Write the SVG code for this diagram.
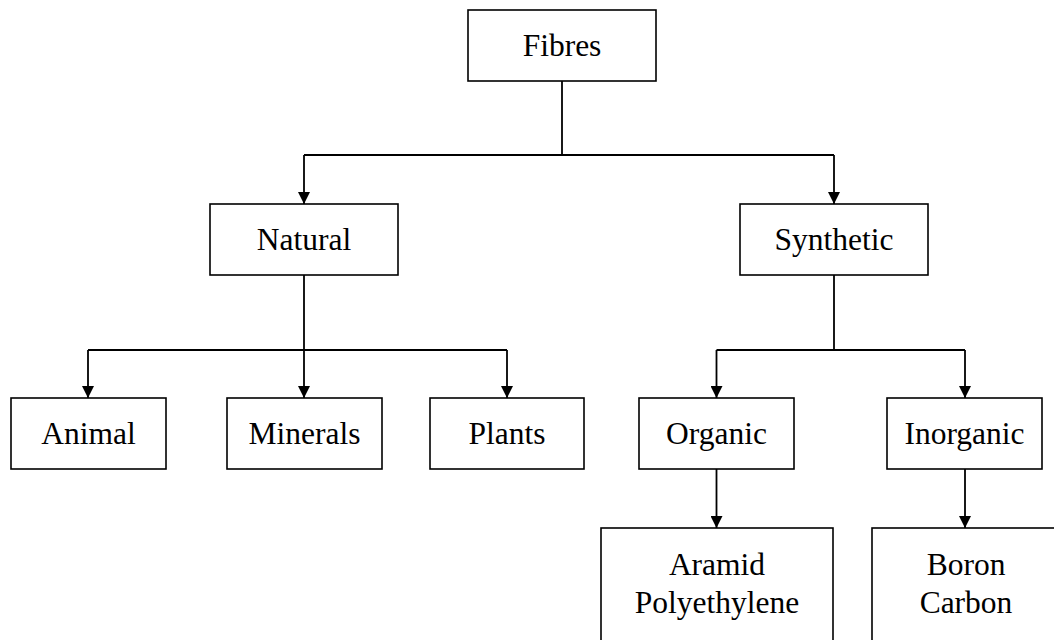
<svg xmlns="http://www.w3.org/2000/svg" width="1054" height="640" viewBox="0 0 1054 640">
<style>
.box{fill:#fff;stroke:#000;stroke-width:1.6}
.lbl{font-size:31.5px;fill:#000;text-anchor:middle}
.ln{fill:none;stroke:#000;stroke-width:1.8}
</style>
<defs>
<marker id="ah" markerWidth="12" markerHeight="12" refX="12" refY="6" orient="auto" markerUnits="userSpaceOnUse">
<path d="M0,0 L12,6 L0,12 Z" fill="#000"/>
</marker>
</defs>
<rect width="1054" height="640" fill="#fff"/>
<g id="connectors">
<path class="ln" d="M562,81 V155"/>
<path class="ln" d="M304,155 H834"/>
<path class="ln" d="M304,155 V204" marker-end="url(#ah)"/>
<path class="ln" d="M834,155 V204" marker-end="url(#ah)"/>
<path class="ln" d="M304,275 V398" marker-end="url(#ah)"/>
<path class="ln" d="M88,350 H507"/>
<path class="ln" d="M88,350 V398" marker-end="url(#ah)"/>
<path class="ln" d="M507,350 V398" marker-end="url(#ah)"/>
<path class="ln" d="M834,275 V350"/>
<path class="ln" d="M716.5,350 H965"/>
<path class="ln" d="M716.5,350 V398" marker-end="url(#ah)"/>
<path class="ln" d="M965,350 V398" marker-end="url(#ah)"/>
<path class="ln" d="M716.5,469 V528" marker-end="url(#ah)"/>
<path class="ln" d="M965,469 V528" marker-end="url(#ah)"/>
</g>
<g font-family="Liberation Serif, Tinos, Times New Roman, Times, serif">
<g id="fibres"><rect class="box" x="468" y="10" width="188" height="71"/><text class="lbl" x="562" y="56">Fibres</text></g>
<g id="natural"><rect class="box" x="210" y="204" width="188" height="71"/><text class="lbl" x="304" y="250">Natural</text></g>
<g id="synthetic"><rect class="box" x="740" y="204" width="188" height="71"/><text class="lbl" x="834" y="250">Synthetic</text></g>
<g id="animal"><rect class="box" x="11" y="398" width="155" height="71"/><text class="lbl" x="88.5" y="444">Animal</text></g>
<g id="minerals"><rect class="box" x="227" y="398" width="155" height="71"/><text class="lbl" x="304.5" y="444">Minerals</text></g>
<g id="plants"><rect class="box" x="430" y="398" width="154" height="71"/><text class="lbl" x="507" y="444">Plants</text></g>
<g id="organic"><rect class="box" x="639" y="398" width="155" height="71"/><text class="lbl" x="716.5" y="444">Organic</text></g>
<g id="inorganic"><rect class="box" x="887" y="398" width="155" height="71"/><text class="lbl" x="964.5" y="444">Inorganic</text></g>
<g id="aramid"><rect class="box" x="601" y="528" width="232" height="140"/><text class="lbl" x="717" y="575">Aramid</text><text class="lbl" x="717" y="613">Polyethylene</text></g>
<g id="boron"><rect class="box" x="872" y="528" width="190" height="140"/><text class="lbl" x="966" y="575">Boron</text><text class="lbl" x="966" y="613">Carbon</text></g>
</g>
</svg>
